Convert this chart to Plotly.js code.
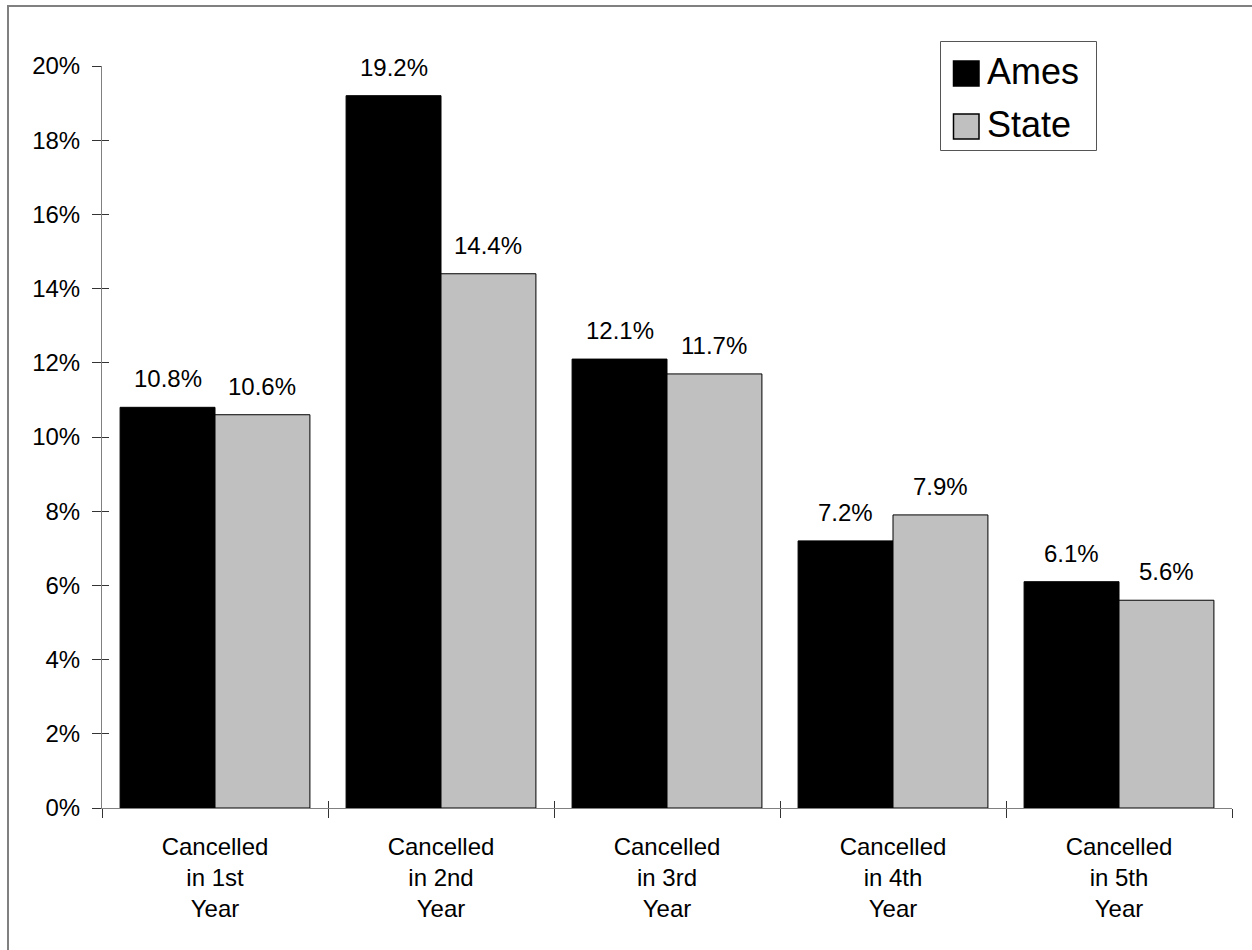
<!DOCTYPE html>
<html>
<head>
<meta charset="utf-8">
<script src="https://cdn.plot.ly/plotly-3.0.1.min.js"></script>
<style>html,body{margin:0;padding:0;background:#fff;}#chart{width:1252px;height:950px;}</style>
</head>
<body>
<div id="chart"></div>
<script>
var categories = ["Cancelled<br>in 1st<br>Year", "Cancelled<br>in 2nd<br>Year", "Cancelled<br>in 3rd<br>Year", "Cancelled<br>in 4th<br>Year", "Cancelled<br>in 5th<br>Year"];
var seriesNames = ["Ames", "State"];
var amesValues = [0.108, 0.192, 0.121, 0.072, 0.061];
var stateValues = [0.106, 0.144, 0.117, 0.079, 0.056];
var seriesColors = ["#000000", "#c0c0c0"];
var yTickVals = [0, 0.02, 0.04, 0.06, 0.08, 0.10, 0.12, 0.14, 0.16, 0.18, 0.20];

var W = 1252, H = 950, L = 102, R = 20, T = 66, B = 142;
var PW = W - L - R, PH = H - T - B;
function px(x) { return (x - L) / PW; }
function py(y) { return (H - B - y) / PH; }

var BARGAP = 0.16;
var series = [amesValues, stateValues];
var traces = series.map(function (vals, i) {
  return {
    type: "bar",
    name: seriesNames[i],
    x: categories,
    y: vals,
    marker: { color: seriesColors[i], line: { color: "#000000", width: 1 } },
    showlegend: false,
    hoverinfo: "skip"
  };
});
// empty trace so the overlay axes (inner tick halves) get drawn
traces.push({ type: "scatter", x: [], y: [], xaxis: "x2", yaxis: "y2", showlegend: false, hoverinfo: "skip" });

var fontFam = "Arial, 'Liberation Sans', sans-serif";
var annotations = [];
var half = (1 - BARGAP) / 2;
series.forEach(function (vals, i) {
  vals.forEach(function (v, j) {
    annotations.push({
      x: j + (i === 0 ? -half / 2 : half / 2),
      y: v,
      xref: "x", yref: "y",
      text: (v * 100).toFixed(1) + "%",
      showarrow: false,
      yanchor: "bottom",
      yshift: 13,
      font: { family: fontFam, size: 24, color: "#000" }
    });
  });
});

// legend (custom, large squares)
var shapes = [
  { type: "rect", xref: "paper", yref: "paper", x0: px(8), x1: px(1300), y0: py(6), y1: py(1000),
    line: { color: "#808080", width: 2 }, fillcolor: "rgba(0,0,0,0)", layer: "below" },
  { type: "rect", xref: "paper", yref: "paper", x0: px(940.5), x1: px(1096.5), y0: py(41.5), y1: py(150.5),
    line: { color: "#555555", width: 1 }, fillcolor: "#ffffff" }
];
var legRows = [73.5, 126.5];
seriesNames.forEach(function (n, i) {
  var cy = legRows[i];
  shapes.push({ type: "rect", xref: "paper", yref: "paper", x0: px(953.5), x1: px(979), y0: py(cy - 12.5), y1: py(cy + 12.5),
    line: { color: "#000000", width: 1.5 }, fillcolor: seriesColors[i] });
  annotations.push({ x: px(985), y: py(cy - 2), xref: "paper", yref: "paper", xanchor: "left", yanchor: "middle",
    text: n, showarrow: false, font: { family: fontFam, size: 36, color: "#000" } });
});

var layout = {
  width: W, height: H,
  margin: { l: L, r: R, t: T, b: B, pad: 0 },
  paper_bgcolor: "#ffffff", plot_bgcolor: "#ffffff",
  barmode: "group", bargap: BARGAP, bargroupgap: 0,
  showlegend: false,
  font: { family: fontFam, size: 24, color: "#000" },
  xaxis: {
    type: "category",
    showline: true, linecolor: "#808080", linewidth: 1,
    ticks: "outside", tickson: "boundaries", ticklen: 9, tickcolor: "#333", tickwidth: 1,
    ticklabelstandoff: 17,
    showgrid: false, zeroline: false,
    tickfont: { family: fontFam, size: 24, color: "#000" },
    range: [-0.5, 4.5]
  },
  yaxis: {
    range: [0, 0.2],
    tickvals: yTickVals, tickformat: ".0%",
    showline: true, linecolor: "#808080", linewidth: 1,
    ticks: "outside", ticklen: 9, tickcolor: "#333", tickwidth: 1,
    ticklabelstandoff: 7,
    showgrid: false, zeroline: false,
    tickfont: { family: fontFam, size: 24, color: "#000" }
  },
  xaxis2: {
    overlaying: "x", anchor: "y2", range: [-0.5, 4.5], type: "linear",
    tick0: -0.5, dtick: 1, ticks: "inside", ticklen: 7, tickcolor: "#333",
    showticklabels: false, showline: false, showgrid: false, zeroline: false, side: "bottom", fixedrange: true
  },
  yaxis2: {
    overlaying: "y", anchor: "x2", range: [0, 0.2], type: "linear",
    tickvals: yTickVals, ticks: "inside", ticklen: 7, tickcolor: "#333",
    showticklabels: false, showline: false, showgrid: false, zeroline: false, side: "left", fixedrange: true
  },
  annotations: annotations,
  shapes: shapes
};

Plotly.newPlot("chart", traces, layout, { staticPlot: true, displayModeBar: false });
</script>
</body>
</html>
